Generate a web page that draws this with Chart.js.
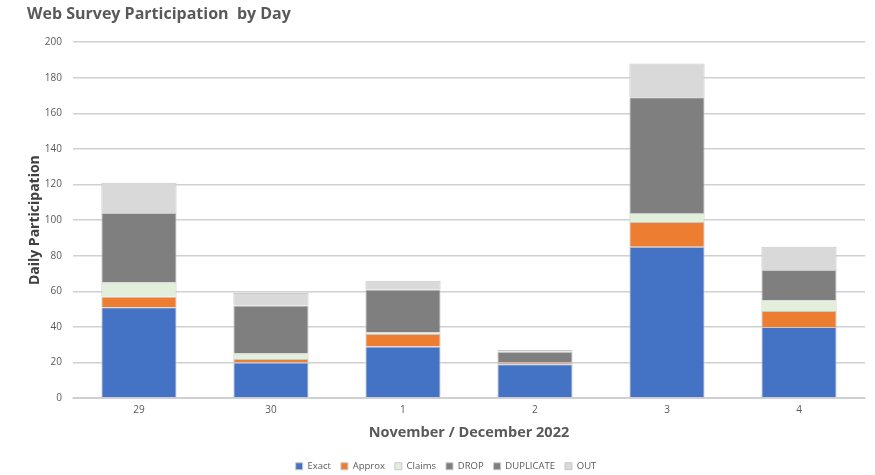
<!DOCTYPE html>
<html>
<head>
<meta charset="utf-8">
<script src="https://cdn.jsdelivr.net/npm/chart.js@4/dist/chart.umd.min.js"></script>
<style>
  html, body { margin: 0; padding: 0; background: #fff; }
  #wrap { width: 875px; height: 475px; }
</style>
</head>
<body>
<div id="wrap"><canvas id="myChart" width="875" height="475"></canvas></div>
<script>
const dias = ['29', '30', '1', '2', '3', '4'];
const exact = [51, 20, 29, 19, 85, 40];
const approx = [6, 2, 7, 1, 14, 9];
const claims = [8, 3, 1, 0, 5, 6];
const drop = [39, 27, 24, 6, 65, 17];
const duplicate = [0, 0, 0, 0, 0, 0];
const out = [17, 7, 5, 1, 19, 13];
const yTicks = [0, 20, 40, 60, 80, 100, 120, 140, 160, 180, 200];

const fonte = "'Open Sans', 'Liberation Sans', sans-serif";

function serie(label, data, cor) {
    return {
        label,
        data,
        backgroundColor: cor,
        borderColor: '#c9c9c9',
        borderWidth: 1,
        categoryPercentage: 1,
        barPercentage: 0.57,
    };
}

const ctx = document.getElementById('myChart').getContext('2d');
const myChart = new Chart(ctx, {
    type: 'bar',
    data: {
        labels: dias,
        datasets: [
            serie('Exact', exact, '#4472C4'),
            serie('Approx', approx, '#ED7D31'),
            serie('Claims', claims, '#E2EFDA'),
            serie('DROP', drop, '#7F7F7F'),
            serie('DUPLICATE', duplicate, '#808080'),
            serie('OUT', out, '#D9D9D9'),
        ]
    },
    options: {
        responsive: false,
        animation: false,
        layout: { padding: { left: 27, right: 10, top: 5, bottom: -6 } },
        plugins: {
            title: {
                display: true,
                text: 'Web Survey Participation  by Day',
                align: 'start',
                color: '#595959',
                font: { family: fonte, size: 16, weight: 'bold' },
                padding: { top: 0, bottom: 18 },
            },
            legend: {
                position: 'bottom',
                labels: {
                    color: '#595959',
                    font: { family: fonte, size: 9.5 },
                    boxWidth: 7,
                    boxHeight: 7,
                    padding: 10,
                },
            },
            tooltip: { enabled: false },
        },
        scales: {
            x: {
                stacked: true,
                grid: { display: false, drawTicks: false },
                border: { color: '#d0d0d0', width: 1 },
                ticks: { color: '#595959', font: { family: fonte, size: 10 }, padding: 6 },
                title: {
                    display: true,
                    text: 'November / December 2022',
                    color: '#595959',
                    font: { family: fonte, size: 14.5, weight: 'bold' },
                    padding: { top: 2, bottom: 10 },
                },
            },
            y: {
                stacked: true,
                min: 0,
                max: 200,
                afterBuildTicks: axis => { axis.ticks = yTicks.map(v => ({ value: v })); },
                grid: { color: '#d0d0d0', lineWidth: 1.5, drawTicks: false },
                border: { display: false },
                ticks: { color: '#595959', font: { family: fonte, size: 10 }, padding: 11 },
                title: {
                    display: true,
                    text: 'Daily Participation',
                    color: '#404040',
                    font: { family: fonte, size: 14, weight: 'bold' },
                    padding: { top: 0, bottom: -10 },
                },
            },
        },
    },
});
</script>
</body>
</html>
